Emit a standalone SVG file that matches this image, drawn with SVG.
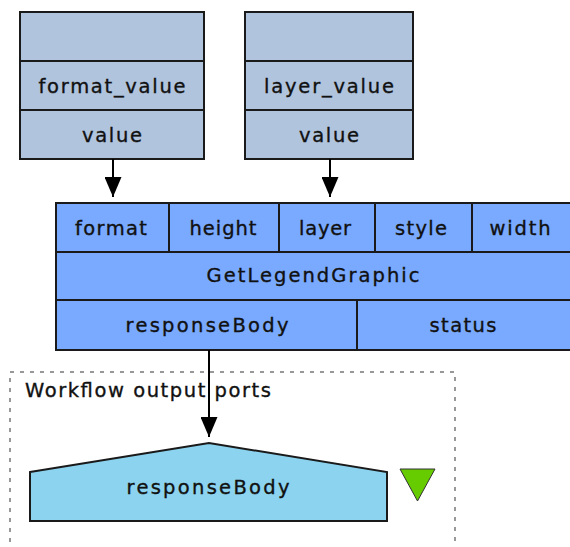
<svg xmlns="http://www.w3.org/2000/svg" width="570" height="547" viewBox="0 0 570 547">
  <style>
    .cell { stroke: #1a1a1a; stroke-width: 2; }
    .inp { fill: #b0c4de; }
    .proc { fill: #79aaff; }
    .outp { fill: #8bd3ee; }
    .lbl { font-family: "DejaVu Sans", "Liberation Sans", sans-serif; font-size: 19.5px; fill: #111; stroke: #111; stroke-width: 0.35; text-anchor: middle; }
    .title { font-family: "DejaVu Sans", "Liberation Sans", sans-serif; font-size: 19.5px; fill: #111; stroke: #111; stroke-width: 0.35; }
    .edge { stroke: #000; stroke-width: 2; fill: none; }
  </style>
  <defs>
    <marker id="arrow" markerUnits="userSpaceOnUse" markerWidth="20" markerHeight="17" refX="20" refY="8.5" orient="auto" viewBox="0 0 20 17">
      <path d="M0,0 L20,8.5 L0,17 Z" fill="#000"/>
    </marker>
  </defs>

  <rect width="570" height="547" fill="#fff"/>

  <!-- workflow output ports cluster -->
  <g id="cluster_outputs">
    <rect x="10" y="372" width="445" height="190" fill="none" stroke="#777" stroke-width="1.5" stroke-dasharray="4,6"/>
    <text class="title" x="25" y="396.5" textLength="246" lengthAdjust="spacing">Workflow output ports</text>
  </g>

  <!-- input: format_value -->
  <g id="format_value">
    <rect class="cell inp" x="20" y="12" width="184" height="49"/>
    <rect class="cell inp" x="20" y="61" width="184" height="49"/>
    <rect class="cell inp" x="20" y="110" width="184" height="49"/>
    <text class="lbl" x="112" y="93" textLength="147" lengthAdjust="spacing">format_value</text>
    <text class="lbl" x="112" y="142" textLength="60" lengthAdjust="spacing">value</text>
  </g>

  <!-- input: layer_value -->
  <g id="layer_value">
    <rect class="cell inp" x="245" y="12" width="168" height="49"/>
    <rect class="cell inp" x="245" y="61" width="168" height="49"/>
    <rect class="cell inp" x="245" y="110" width="168" height="49"/>
    <text class="lbl" x="329" y="93" textLength="130" lengthAdjust="spacing">layer_value</text>
    <text class="lbl" x="329" y="142" textLength="60" lengthAdjust="spacing">value</text>
  </g>

  <!-- service: GetLegendGraphic -->
  <g id="GetLegendGraphic">
    <rect class="cell proc" x="56" y="203" width="113" height="49"/>
    <rect class="cell proc" x="169" y="203" width="110" height="49"/>
    <rect class="cell proc" x="279" y="203" width="96" height="49"/>
    <rect class="cell proc" x="375" y="203" width="97" height="49"/>
    <rect class="cell proc" x="472" y="203" width="99" height="49"/>
    <rect class="cell proc" x="56" y="252" width="515" height="48"/>
    <rect class="cell proc" x="56" y="300" width="301" height="50"/>
    <rect class="cell proc" x="357" y="300" width="214" height="50"/>
    <text class="lbl" x="111" y="235" textLength="72" lengthAdjust="spacing">format</text>
    <text class="lbl" x="223" y="235" textLength="67" lengthAdjust="spacing">height</text>
    <text class="lbl" x="325" y="235" textLength="52" lengthAdjust="spacing">layer</text>
    <text class="lbl" x="421" y="235" textLength="52" lengthAdjust="spacing">style</text>
    <text class="lbl" x="520" y="235" textLength="61" lengthAdjust="spacing">width</text>
    <text class="lbl" x="313" y="282" textLength="213" lengthAdjust="spacing">GetLegendGraphic</text>
    <text class="lbl" x="207" y="332" textLength="163" lengthAdjust="spacing">responseBody</text>
    <text class="lbl" x="463" y="332" textLength="67" lengthAdjust="spacing">status</text>
  </g>

  <!-- workflow output: responseBody -->
  <g id="out_responseBody">
    <polygon class="cell outp" points="30,472 209,443 387,472 387,521 30,521"/>
    <text class="lbl" x="208" y="493.5" textLength="163" lengthAdjust="spacing">responseBody</text>
    <polygon points="400,469 435,469 417.5,501" fill="#66cc00" stroke="#333" stroke-width="1"/>
  </g>

  <!-- connectors -->
  <g id="edges">
    <line class="edge" x1="113" y1="159" x2="113" y2="197" marker-end="url(#arrow)"/>
    <line class="edge" x1="330" y1="159" x2="330" y2="197" marker-end="url(#arrow)"/>
    <line class="edge" x1="209" y1="350" x2="209" y2="437" marker-end="url(#arrow)"/>
  </g>
</svg>
